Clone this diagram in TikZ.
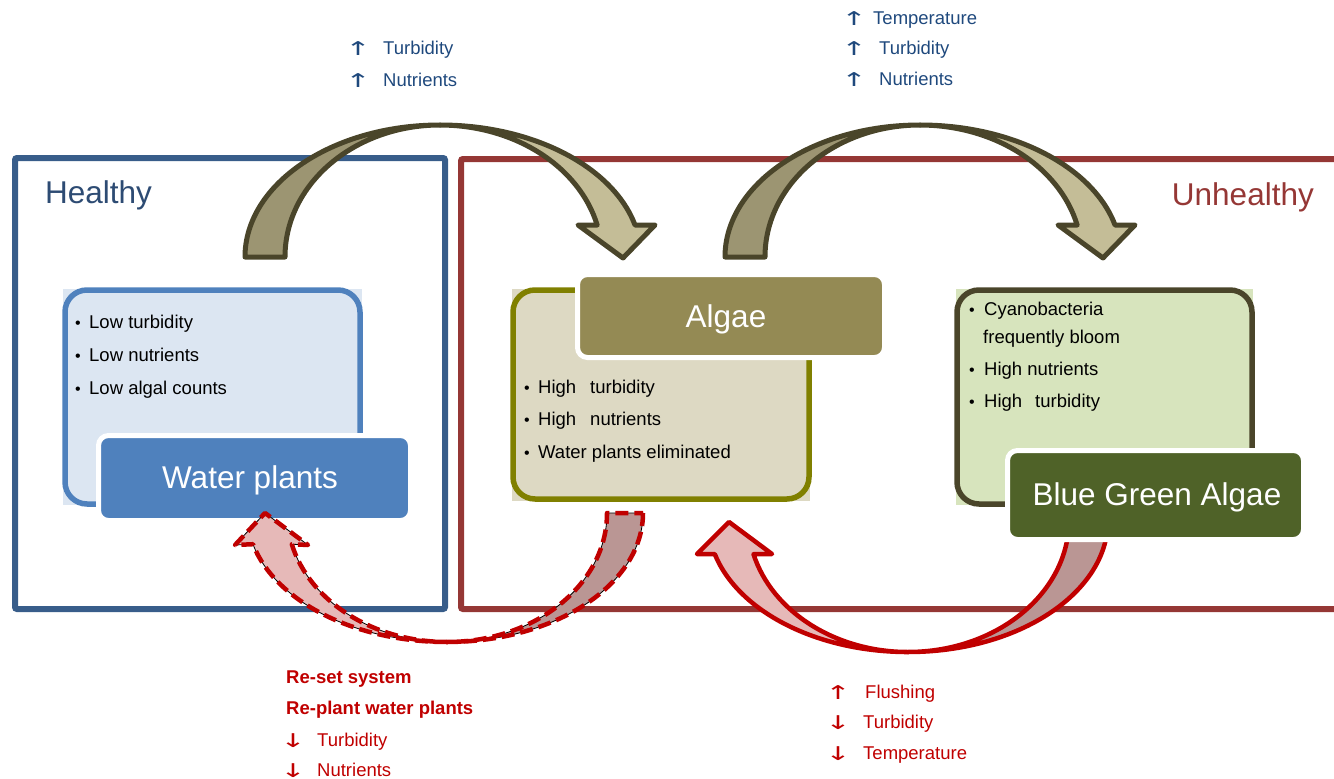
\documentclass[tikz,border=0pt]{standalone}
\usepackage{fontspec}
\usepackage{graphicx}
\setmainfont{Liberation Sans}
\newfontfamily\arrowfont{DejaVu Sans}
\definecolor{frameblue}{HTML}{385D8A}
\definecolor{framered}{HTML}{953735}
\definecolor{healthytxt}{HTML}{2D4B73}
\definecolor{topblue}{HTML}{1F497D}
\definecolor{botred}{HTML}{C00000}
\definecolor{wpblue}{HTML}{4F81BD}
\definecolor{wplight}{HTML}{DCE6F2}
\definecolor{algtitle}{HTML}{948A54}
\definecolor{alglight}{HTML}{DDD9C3}
\definecolor{algstroke}{HTML}{808000}
\definecolor{bgatitle}{HTML}{4F6228}
\definecolor{bgalight}{HTML}{D7E4BD}
\definecolor{bgastroke}{HTML}{4A452A}
\definecolor{tandark}{HTML}{9C9572}
\definecolor{tanlight}{HTML}{C4BD97}
\definecolor{pinklight}{HTML}{E6B9B8}
\definecolor{pinkdark}{HTML}{BA9694}
\newcommand{\upar}{\scalebox{1.6}[1]{↑}}
\newcommand{\dnar}{\scalebox{1.6}[1]{↓}}
\tikzset{
  frame/.style={line width=6pt, rounded corners=2pt},
  lightbox/.style={line width=5.5pt, rounded corners=22pt},
  titlebox/.style={draw=white, line width=5pt, rounded corners=10pt, rectangle, inner sep=0pt},
  titletxt/.style={text=white, anchor=base, inner sep=0pt, font=\fontsize{31.5}{36}\selectfont},
  bigtxt/.style={inner sep=0pt, font=\fontsize{31.5}{36}\selectfont},
  bul/.style={anchor=base west, inner sep=0pt, font=\fontsize{18.5}{22}\selectfont},
  dot/.style={anchor=base, inner sep=0pt, font=\fontsize{16}{18}\selectfont},
  lbl/.style={anchor=base west, inner sep=0pt, font=\fontsize{18.5}{22}\selectfont},
  arr/.style={anchor=base, inner sep=0pt, font=\arrowfont\fontsize{19}{22}\selectfont},
  toparrow/.style={draw=bgastroke, line width=5pt, line join=round},
  redsolid/.style={draw=botred, line width=4.5pt, line join=round},
  reddash/.style={draw=black, line width=0.8pt, line join=round,
     postaction={draw=botred, line width=4.5pt, dash pattern=on 13pt off 6pt}}
}
\begin{document}
\begin{tikzpicture}[x=1pt,y=-1pt]
\useasboundingbox (0,0) rectangle (1334,779);
\clip (0,0) rectangle (1334,779);

% frames
\draw[frame, draw=frameblue] (15,158) rectangle (445,609);
\draw[frame, draw=framered] (461,159) rectangle (1345,609);
\node[bigtxt, text=healthytxt, anchor=base west] (healthy) at (45,203) {Healthy};
\node[bigtxt, text=framered, anchor=base east] (unhealthy) at (1314,205) {Unhealthy};

% top arrows
\foreach \s in {0,480}{
\begin{scope}[shift={(\s,0)}]
\draw[toparrow, fill=tandark] (245,257) arc[start angle=180, end angle=270, x radius=195, y radius=132]
   arc[start angle=270, end angle=180, x radius=155, y radius=132] -- cycle;
\draw[toparrow, fill=tanlight] (440,125) arc[start angle=270, end angle=346, x radius=201, y radius=132]
   -- (655,225) -- (623,258) -- (578,225) -- (597.2,225.1)
   arc[start angle=346, end angle=270, x radius=162, y radius=132] -- cycle;
\end{scope}}

% bottom right arrow (solid red)
\draw[redsolid, fill=pinkdark] (1108,520) arc[start angle=0, end angle=90, x radius=200, y radius=132]
   arc[start angle=90, end angle=0, x radius=161, y radius=132] -- cycle;
\draw[redsolid, fill=pinklight] (908,652) arc[start angle=90, end angle=165, x radius=200, y radius=132]
   -- (697,554) -- (729,522) -- (772,554) -- (753.5,554.2)
   arc[start angle=165, end angle=90, x radius=160, y radius=132] -- cycle;

% Water plants group
\fill[wplight] (63,289) rectangle (362,505);
\draw[lightbox, draw=wpblue, fill=wplight] (65,290) rectangle (360,504);
\node[titlebox, fill=wpblue, minimum width=312pt, minimum height=85pt] (wpbox) at (254.5,478) {};
\node[titletxt] (wptxt) at (250,488) {Water plants};
\node[dot] (wd1) at (78,328) {•}; \node[bul] (wb1) at (89,328) {Low turbidity};
\node[dot] (wd2) at (78,361) {•}; \node[bul] (wb2) at (89,361) {Low nutrients};
\node[dot] (wd3) at (78,394) {•}; \node[bul] (wb3) at (89,394) {Low algal counts};

% Algae group
\fill[alglight] (512,289) rectangle (810,501);
\draw[lightbox, draw=algstroke, fill=alglight] (513,290) rectangle (809,499);
\node[titlebox, fill=algtitle, minimum width=307pt, minimum height=83pt] (algbox) at (731,316) {};
\node[titletxt] (algtxt) at (726,327) {Algae};
\node[dot] (ad1) at (527,393) {•}; \node[bul] (ab1) at (538,393) {High\hspace{14pt}turbidity};
\node[dot] (ad2) at (527,425) {•}; \node[bul] (ab2) at (538,425) {High\hspace{14pt}nutrients};
\node[dot] (ad3) at (527,458) {•}; \node[bul] (ab3) at (538,458) {Water plants eliminated};

% Blue Green Algae group
\fill[bgalight] (956,289) rectangle (1253,505);
\draw[lightbox, draw=bgastroke, fill=bgalight] (957,290) rectangle (1252,504);
\node[titlebox, fill=bgatitle, minimum width=296pt, minimum height=89pt] (bgabox) at (1155.5,495) {};
\node[titletxt] (bgatxt) at (1157,505) {Blue Green Algae};
\node[dot] (bd1) at (972,315) {•}; \node[bul] (bb1) at (984,315) {Cyanobacteria};
\node[bul] (bb1b) at (983,343) {frequently bloom};
\node[dot] (bd2) at (972,375) {•}; \node[bul] (bb2) at (984,375) {High nutrients};
\node[dot] (bd3) at (972,407) {•}; \node[bul] (bb3) at (984,407) {High\hspace{13pt}turbidity};

% bottom left arrow (dashed red)
\draw[reddash, fill=pinkdark] (643,513) arc[start angle=0, end angle=90, x radius=196, y radius=129]
   arc[start angle=90, end angle=0, x radius=160, y radius=129] -- cycle;
\draw[reddash, fill=pinklight] (447,642) arc[start angle=90, end angle=166, x radius=200, y radius=129]
   -- (235,545) -- (265,513) -- (308,545) -- (291.8,544.2)
   arc[start angle=166, end angle=90, x radius=160, y radius=129] -- cycle;

% top labels
\begin{scope}[text=topblue]
\node[arr] (t1a) at (358,55) {\upar}; \node[lbl] (t1) at (383,54) {Turbidity};
\node[arr] (t2a) at (358,87) {\upar}; \node[lbl] (t2) at (383,86) {Nutrients};
\node[arr] (t3a) at (854,25) {\upar}; \node[lbl] (t3) at (873,24) {Temperature};
\node[arr] (t4a) at (854,55) {\upar}; \node[lbl] (t4) at (879,54) {Turbidity};
\node[arr] (t5a) at (854,86) {\upar}; \node[lbl] (t5) at (879,85) {Nutrients};
\end{scope}

% bottom labels
\begin{scope}[text=botred]
\node[lbl, font=\fontsize{18.5}{22}\selectfont\bfseries] (r1) at (286,683) {Re-set system};
\node[lbl, font=\fontsize{18.5}{22}\selectfont\bfseries] (r2) at (286,714) {Re-plant water plants};
\node[arr] (r3a) at (293,747) {\dnar}; \node[lbl] (r3) at (317,746) {Turbidity};
\node[arr] (r4a) at (293,777) {\dnar}; \node[lbl] (r4) at (317,776) {Nutrients};
\node[arr] (s1a) at (838,699) {\upar}; \node[lbl] (s1) at (865,698) {Flushing};
\node[arr] (s2a) at (838,729) {\dnar}; \node[lbl] (s2) at (863,728) {Turbidity};
\node[arr] (s3a) at (838,760) {\dnar}; \node[lbl] (s3) at (863,759) {Temperature};
\end{scope}
\end{tikzpicture}
\end{document}
